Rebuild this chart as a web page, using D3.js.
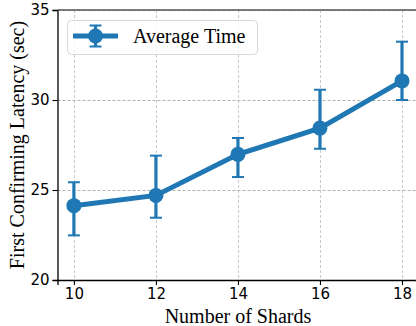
<!DOCTYPE html>
<html>
<head>
<meta charset="utf-8">
<script src="https://cdn.jsdelivr.net/npm/d3@7"></script>
<style>
	body { margin: 0; background: #fff; }
	svg { display: block; }
</style>
</head>
<body>
<script>
// Data
var shards = [10, 12, 14, 16, 18];
var avgTime = [24.13, 24.70, 26.98, 28.44, 31.06];
var errLow = [22.48, 23.46, 25.72, 27.29, 30.0];
var errHigh = [25.43, 26.91, 27.89, 30.57, 33.24];
var yTicks = [20, 25, 30, 35];
var seriesName = "Average Time";

var width = 416, height = 326,
		margin = {top: 10, right: -2.4, bottom: 46, left: 57.5},
		color = "#1f77b4";

var svg = d3.select("body").append("svg")
		.attr("width", width)
		.attr("height", height);

var x = d3.scaleLinear()
		.domain([9.6, 18.4])
		.range([margin.left, width - margin.right]);

var y = d3.scaleLinear()
		.domain([20, 35])
		.range([height - margin.bottom, margin.top]);

// Grid
var grid = svg.append("g").attr("class", "grid")
		.attr("stroke-width", 1)
		.attr("stroke-dasharray", "3,2");

grid.selectAll(".vgrid")
	.data(shards)
	.enter().append("line")
		.attr("stroke", "#c8c8c8")
		.attr("x1", function(d) { return Math.round(x(d)) + 0.5; })
		.attr("x2", function(d) { return Math.round(x(d)) + 0.5; })
		.attr("y1", y(35))
		.attr("y2", y(20));

grid.selectAll(".hgrid")
	.data(yTicks)
	.enter().append("line")
		.attr("stroke", "#b0b0b0")
		.attr("x1", x(9.6))
		.attr("x2", x(18.4))
		.attr("y1", function(d) { return Math.round(y(d)) + 0.5; })
		.attr("y2", function(d) { return Math.round(y(d)) + 0.5; });

// Axes
var xAxis = d3.axisBottom(x).tickValues(shards).tickSize(5).tickPadding(3);
var yAxis = d3.axisLeft(y).tickValues(yTicks).tickSize(5).tickPadding(3);

var gx = svg.append("g")
		.attr("transform", "translate(0," + y(20) + ")")
		.call(xAxis);
var gy = svg.append("g")
		.attr("transform", "translate(" + x(9.6) + ",0)")
		.call(yAxis);

[gx, gy].forEach(function(g) {
	g.select(".domain").attr("stroke", "#000").attr("stroke-width", 1.3);
	g.selectAll(".tick line").attr("stroke", "#000").attr("stroke-width", 1.1);
	g.selectAll(".tick text")
		.attr("fill", "#000")
		.style("font-family", "'DejaVu Sans', sans-serif")
		.style("font-size", "15px");
});

// Top spine
svg.append("line")
		.attr("x1", x(9.6))
		.attr("x2", x(18.4))
		.attr("y1", y(35))
		.attr("y2", y(35))
		.attr("stroke", "#555")
		.attr("stroke-width", 1.3);

// Axis titles
svg.append("text")
		.attr("x", (x(9.6) + x(18.4)) / 2)
		.attr("y", 323)
		.attr("text-anchor", "middle")
		.style("font-family", "'Liberation Serif', 'Times New Roman', serif")
		.style("font-size", "20px")
		.text("Number of Shards");

svg.append("text")
		.attr("transform", "translate(24," + (y(20) + y(35)) / 2 + ") rotate(-90)")
		.attr("text-anchor", "middle")
		.style("font-family", "'Liberation Serif', 'Times New Roman', serif")
		.style("font-size", "20px")
		.text("First Confirming Latency (sec)");

// Series
var points = shards.map(function(s, i) {
	return {x: s, y: avgTime[i], lo: errLow[i], hi: errHigh[i]};
});

var line = d3.line()
		.x(function(d) { return x(d.x); })
		.y(function(d) { return y(d.y); });

var errs = svg.append("g").attr("class", "errors")
		.attr("stroke", color);

errs.selectAll(".err")
	.data(points)
	.enter().append("line")
		.attr("x1", function(d) { return x(d.x); })
		.attr("x2", function(d) { return x(d.x); })
		.attr("y1", function(d) { return y(d.lo); })
		.attr("y2", function(d) { return y(d.hi); })
		.attr("stroke-width", 3.2);

errs.selectAll(".cap")
	.data(points.flatMap(function(d) { return [{x: d.x, v: d.lo}, {x: d.x, v: d.hi}]; }))
	.enter().append("line")
		.attr("x1", function(d) { return x(d.x) - 6; })
		.attr("x2", function(d) { return x(d.x) + 6; })
		.attr("y1", function(d) { return y(d.v); })
		.attr("y2", function(d) { return y(d.v); })
		.attr("stroke-width", 2);

svg.append("path")
		.datum(points)
		.attr("fill", "none")
		.attr("stroke", color)
		.attr("stroke-width", 5)
		.attr("d", line);

svg.selectAll(".dot")
	.data(points)
	.enter().append("circle")
		.attr("class", "dot")
		.attr("cx", function(d) { return x(d.x); })
		.attr("cy", function(d) { return y(d.y); })
		.attr("r", 7.5)
		.attr("fill", color);

// Legend
var legend = svg.append("g").attr("class", "legend");

legend.append("rect")
		.attr("x", 67.5)
		.attr("y", 20.5)
		.attr("width", 190)
		.attr("height", 34)
		.attr("rx", 4)
		.attr("fill", "#fff")
		.attr("fill-opacity", 0.85)
		.attr("stroke", "#d9d9d9")
		.attr("stroke-width", 1);

legend.append("line")
		.attr("x1", 73).attr("x2", 118)
		.attr("y1", 36).attr("y2", 36)
		.attr("stroke", color)
		.attr("stroke-width", 5);

legend.append("line")
		.attr("x1", 95.5).attr("x2", 95.5)
		.attr("y1", 25.5).attr("y2", 46.5)
		.attr("stroke", color)
		.attr("stroke-width", 3.2);

[25.5, 46.5].forEach(function(cy) {
	legend.append("line")
			.attr("x1", 89.5).attr("x2", 101.5)
			.attr("y1", cy).attr("y2", cy)
			.attr("stroke", color)
			.attr("stroke-width", 2);
});

legend.append("circle")
		.attr("cx", 95.5).attr("cy", 36)
		.attr("r", 7.5)
		.attr("fill", color);

legend.append("text")
		.attr("x", 133)
		.attr("y", 43)
		.style("font-family", "'Liberation Serif', 'Times New Roman', serif")
		.style("font-size", "20px")
		.text(seriesName);
</script>
</body>
</html>
